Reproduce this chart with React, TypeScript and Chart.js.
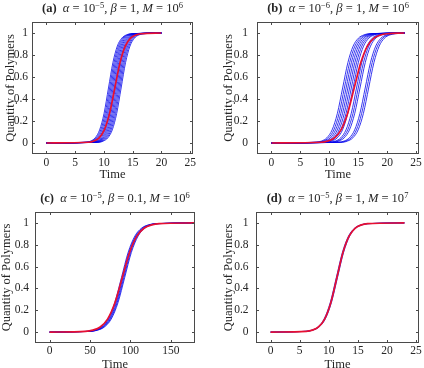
import React, { useEffect, useRef } from "react";
import { Chart, registerables } from "chart.js";

Chart.register(...registerables);

// Quantity levels shared by every curve; each curve lists the time at which it reaches each level.
const LEVELS = [0, 0.0067, 0.018, 0.047, 0.119, 0.269, 0.5, 0.731, 0.881, 0.953, 0.982, 0.9933, 1];

const Y_TICKS = [0, 0.2, 0.4, 0.6, 0.8, 1];
const X_TICKS_SHORT = [0, 5, 10, 15, 20, 25];
const X_TICKS_LONG = [0, 50, 100, 150];

// (a) alpha=1e-5, beta=1, M=1e6
const A_RED = [0, 7.35, 8.26, 9.17, 10.08, 10.99, 11.9, 12.81, 13.72, 14.63, 15.54, 16.45, 20];
const A_BLUE = [
  [0, 6.95, 7.72, 8.49, 9.26, 10.03, 10.8, 11.57, 12.34, 13.11, 13.88, 14.65, 20],
  [0, 7.15, 7.92, 8.69, 9.46, 10.23, 11.0, 11.77, 12.54, 13.31, 14.08, 14.85, 20],
  [0, 7.35, 8.12, 8.89, 9.66, 10.43, 11.2, 11.97, 12.74, 13.51, 14.28, 15.05, 20],
  [0, 7.55, 8.32, 9.09, 9.86, 10.63, 11.4, 12.17, 12.94, 13.71, 14.48, 15.25, 20],
  [0, 7.75, 8.52, 9.29, 10.06, 10.83, 11.6, 12.37, 13.14, 13.91, 14.68, 15.45, 20],
  [0, 7.95, 8.72, 9.49, 10.26, 11.03, 11.8, 12.57, 13.34, 14.11, 14.88, 15.65, 20],
  [0, 8.15, 8.92, 9.69, 10.46, 11.23, 12.0, 12.77, 13.54, 14.31, 15.08, 15.85, 20],
  [0, 8.35, 9.12, 9.89, 10.66, 11.43, 12.2, 12.97, 13.74, 14.51, 15.28, 16.05, 20],
  [0, 8.55, 9.32, 10.09, 10.86, 11.63, 12.4, 13.17, 13.94, 14.71, 15.48, 16.25, 20],
  [0, 8.75, 9.52, 10.29, 11.06, 11.83, 12.6, 13.37, 14.14, 14.91, 15.68, 16.45, 20],
  [0, 8.95, 9.72, 10.49, 11.26, 12.03, 12.8, 13.57, 14.34, 15.11, 15.88, 16.65, 20],
  [0, 9.15, 9.92, 10.69, 11.46, 12.23, 13.0, 13.77, 14.54, 15.31, 16.08, 16.85, 20],
];

// (b) alpha=1e-6, beta=1, M=1e6
const B_RED = [0, 8.62, 9.75, 10.89, 12.03, 13.16, 14.3, 15.44, 16.57, 17.71, 18.85, 19.98, 23];
const B_BLUE = [
  [0, 7.75, 8.66, 9.57, 10.48, 11.39, 12.3, 13.21, 14.12, 15.03, 15.94, 16.85, 23],
  [0, 8.05, 8.96, 9.87, 10.78, 11.69, 12.6, 13.51, 14.42, 15.33, 16.24, 17.15, 23],
  [0, 8.35, 9.26, 10.17, 11.08, 11.99, 12.9, 13.81, 14.72, 15.63, 16.54, 17.45, 23],
  [0, 8.65, 9.56, 10.47, 11.38, 12.29, 13.2, 14.11, 15.02, 15.93, 16.84, 17.75, 23],
  [0, 8.95, 9.86, 10.77, 11.68, 12.59, 13.5, 14.41, 15.32, 16.23, 17.14, 18.05, 23],
  [0, 9.25, 10.16, 11.07, 11.98, 12.89, 13.8, 14.71, 15.62, 16.53, 17.44, 18.35, 23],
  [0, 9.55, 10.46, 11.37, 12.28, 13.19, 14.1, 15.01, 15.92, 16.83, 17.74, 18.65, 23],
  [0, 10.15, 11.06, 11.97, 12.88, 13.79, 14.7, 15.61, 16.52, 17.43, 18.34, 19.25, 23],
  [0, 10.45, 11.36, 12.27, 13.18, 14.09, 15.0, 15.91, 16.82, 17.73, 18.64, 19.55, 23],
  [0, 10.75, 11.66, 12.57, 13.48, 14.39, 15.3, 16.21, 17.12, 18.03, 18.94, 19.85, 23],
  [0, 11.65, 12.56, 13.47, 14.38, 15.29, 16.2, 17.11, 18.02, 18.93, 19.84, 20.75, 23],
  [0, 11.95, 12.86, 13.77, 14.68, 15.59, 16.5, 17.41, 18.32, 19.23, 20.14, 21.05, 23],
  [0, 12.25, 13.16, 14.07, 14.98, 15.89, 16.8, 17.71, 18.62, 19.53, 20.44, 21.35, 23],
];

// (c) alpha=1e-5, beta=0.1, M=1e6
const C_RED = [0, 44.5, 53.6, 62.7, 71.8, 80.9, 90, 99.1, 108.2, 117.3, 126.4, 135.5, 180];
const C_BLUE = [
  [0, 47.3, 55.7, 64.0, 72.3, 80.7, 89, 97.3, 105.7, 114.0, 122.3, 130.7, 180],
  [0, 48.3, 56.7, 65.0, 73.3, 81.7, 90, 98.3, 106.7, 115.0, 123.3, 131.7, 180],
  [0, 49.3, 57.7, 66.0, 74.3, 82.7, 91, 99.3, 107.7, 116.0, 124.3, 132.7, 180],
  [0, 50.3, 58.7, 67.0, 75.3, 83.7, 92, 100.3, 108.7, 117.0, 125.3, 133.7, 180],
  [0, 51.3, 59.7, 68.0, 76.3, 84.7, 93, 101.3, 109.7, 118.0, 126.3, 134.7, 180],
];

// (d) alpha=1e-5, beta=1, M=1e7
const D_RED = [0, 6.14, 7.19, 8.24, 9.29, 10.35, 11.4, 12.45, 13.51, 14.56, 15.61, 16.66, 23];
const D_BLUE = [
  [0, 6.04, 7.09, 8.14, 9.19, 10.25, 11.3, 12.35, 13.41, 14.46, 15.51, 16.56, 23],
  [0, 6.14, 7.19, 8.24, 9.29, 10.35, 11.4, 12.45, 13.51, 14.56, 15.61, 16.66, 23],
  [0, 6.24, 7.29, 8.34, 9.39, 10.45, 11.5, 12.55, 13.61, 14.66, 15.71, 16.76, 23],
];

const PANEL_TAGS = ["a", "b", "c", "d"];
const ALPHA_EXPONENTS = ["−5", "−6", "−5", "−5"];
const BETA_VALUES = ["1", "1", "0.1", "1"];
const M_EXPONENTS = ["6", "6", "6", "7"];

const X_LABEL = "Time";
const Y_LABEL = "Quantity of Polymers";

const BLUE = "rgba(0,0,235,0.78)";
const RED = "rgb(232,16,48)";
const FRAME = "#4a4a4a";
const TEXT = "#262626";
const FONT_FAMILY = '"Liberation Serif", "Times New Roman", serif';

const W = 212;
const H = 184;

type Spec = {
  left: number;
  top: number;
  boxL: number;
  boxR: number;
  boxT: number;
  boxB: number;
  xMin: number;
  xMax: number;
  xTicks: number[];
  red: number[];
  blue: number[][];
  yTitlePad: number;
  yTickPad: number;
  xTickPad: number;
  xTitlePad: number;
  titleY: number;
};

const SPECS: Spec[] = [
  { left: 0, top: 0, boxL: 32, boxR: 193, boxT: 22, boxB: 154, xMin: -2.5, xMax: 25.5, xTicks: X_TICKS_SHORT, red: A_RED, blue: A_BLUE, yTitlePad: 3, yTickPad: 4, xTickPad: 2, xTitlePad: 2, titleY: 7.5 },
  { left: 212, top: 0, boxL: 45, boxR: 207, boxT: 22, boxB: 154, xMin: -2.5, xMax: 25.5, xTicks: X_TICKS_SHORT, red: B_RED, blue: B_BLUE, yTitlePad: 9, yTickPad: 9, xTickPad: 2, xTitlePad: 2, titleY: 7.5 },
  { left: 0, top: 184, boxL: 35, boxR: 195, boxT: 28, boxB: 159, xMin: -18, xMax: 180, xTicks: X_TICKS_LONG, red: C_RED, blue: C_BLUE, yTitlePad: -1, yTickPad: 6, xTickPad: 1.5, xTitlePad: -4, titleY: 14 },
  { left: 212, top: 184, boxL: 44, boxR: 207, boxT: 28, boxB: 159, xMin: -2.5, xMax: 25.5, xTicks: X_TICKS_SHORT, red: D_RED, blue: D_BLUE, yTitlePad: 9, yTickPad: 7.5, xTickPad: 1.5, xTitlePad: -4, titleY: 14 },
];

const framePlugin = {
  id: "frame",
  afterDatasetsDraw(chart: any) {
    const { ctx, chartArea, scales } = chart;
    const { left, right, top, bottom } = chartArea;
    const xs = scales.x;
    const ys = scales.y;
    const len = 3;
    ctx.save();
    ctx.strokeStyle = FRAME;
    ctx.lineWidth = 1;
    ctx.beginPath();
    xs.ticks.forEach((t: any) => {
      const px = Math.round(xs.getPixelForValue(t.value)) + 0.5;
      ctx.moveTo(px, bottom);
      ctx.lineTo(px, bottom - len);
      ctx.moveTo(px, top);
      ctx.lineTo(px, top + len);
    });
    ys.ticks.forEach((t: any) => {
      const py = Math.round(ys.getPixelForValue(t.value)) + 0.5;
      ctx.moveTo(left, py);
      ctx.lineTo(left + len, py);
      ctx.moveTo(right, py);
      ctx.lineTo(right - len, py);
    });
    ctx.stroke();
    ctx.strokeRect(left + 0.5, top + 0.5, right - left - 1, bottom - top - 1);
    ctx.restore();
  },
};

function toPoints(times: number[]) {
  return times.map((t, j) => ({ x: t, y: LEVELS[j] }));
}

function Panel({ spec, index }: { spec: Spec; index: number }) {
  const ref = useRef<HTMLCanvasElement>(null);

  useEffect(() => {
    const canvas = ref.current;
    if (!canvas) return;
    // Chart.js paints the first dataset last (on top), so the mean curve goes first.
    const datasets: any[] = [
      {
        label: "mean",
        data: toPoints(spec.red),
        borderColor: RED,
        borderWidth: 1.7,
        pointRadius: 0,
        fill: false,
        cubicInterpolationMode: "monotone",
      },
      ...spec.blue.map((times, i) => ({
        label: `run ${i + 1}`,
        data: toPoints(times),
        borderColor: BLUE,
        borderWidth: 1,
        pointRadius: 0,
        fill: false,
        cubicInterpolationMode: "monotone",
      })),
    ];

    const tickFont = { family: FONT_FAMILY, size: 11.5 };
    const titleFont = { family: FONT_FAMILY, size: 12.5, lineHeight: 1.2 };

    const chart = new Chart(canvas, {
      type: "line",
      data: { datasets },
      plugins: [framePlugin],
      options: {
        animation: false,
        responsive: false,
        devicePixelRatio: 1,
        events: [],
        layout: { padding: { left: 0, right: W - spec.boxR, top: spec.boxT, bottom: 0 } },
        plugins: {
          legend: { display: false },
          tooltip: { enabled: false },
          title: { display: false },
        },
        scales: {
          x: {
            type: "linear",
            min: spec.xMin,
            max: spec.xMax,
            afterBuildTicks: (s: any) => {
              s.ticks = spec.xTicks.map((v) => ({ value: v }));
            },
            afterFit: (s: any) => {
              s.height = H - spec.boxB;
            },
            grid: { display: false, drawTicks: false },
            border: { display: false },
            ticks: {
              padding: spec.xTickPad,
              font: tickFont,
              color: TEXT,
              maxRotation: 0,
              autoSkip: false,
              callback: (v: any) => String(v),
            },
            title: {
              display: true,
              text: X_LABEL,
              font: titleFont,
              color: TEXT,
              padding: { top: 0, bottom: spec.xTitlePad },
            },
          },
          y: {
            type: "linear",
            min: -0.1,
            max: 1.1,
            afterBuildTicks: (s: any) => {
              s.ticks = Y_TICKS.map((v) => ({ value: v }));
            },
            afterFit: (s: any) => {
              s.width = spec.boxL;
            },
            grid: { display: false, drawTicks: false },
            border: { display: false },
            ticks: {
              padding: spec.yTickPad,
              font: tickFont,
              color: TEXT,
              autoSkip: false,
              callback: (v: any) => String(v),
            },
            title: {
              display: true,
              text: Y_LABEL,
              font: titleFont,
              color: TEXT,
              padding: { top: spec.yTitlePad, bottom: 0 },
            },
          },
        },
      } as any,
    });
    return () => chart.destroy();
  }, [spec]);

  const supStyle: React.CSSProperties = { fontSize: "0.68em", verticalAlign: "0.45em", lineHeight: 0 };

  return (
    <>
      <canvas
        ref={ref}
        width={W}
        height={H}
        style={{ position: "absolute", left: spec.left, top: spec.top, width: W, height: H }}
      />
      <div
        style={{
          position: "absolute",
          left: spec.left + (spec.boxL + spec.boxR) / 2,
          top: spec.top + spec.titleY,
          transform: "translate(-50%, -50%)",
          whiteSpace: "nowrap",
          fontFamily: FONT_FAMILY,
          fontSize: 12.5,
          lineHeight: "14px",
          color: TEXT,
        }}
      >
        <b>({PANEL_TAGS[index]})</b>
        {"\u00a0\u00a0"}
        <i>α</i> = 10<span style={supStyle}>{ALPHA_EXPONENTS[index]}</span>, <i>β</i> = {BETA_VALUES[index]},{" "}
        <i>M</i> = 10<span style={supStyle}>{M_EXPONENTS[index]}</span>
      </div>
    </>
  );
}

export default function App() {
  return (
    <div
      style={{
        position: "absolute",
        left: 0,
        top: 0,
        width: 424,
        height: 368,
        overflow: "hidden",
        background: "#ffffff",
      }}
    >
      {SPECS.map((s, i) => (
        <Panel key={i} spec={s} index={i} />
      ))}
    </div>
  );
}
